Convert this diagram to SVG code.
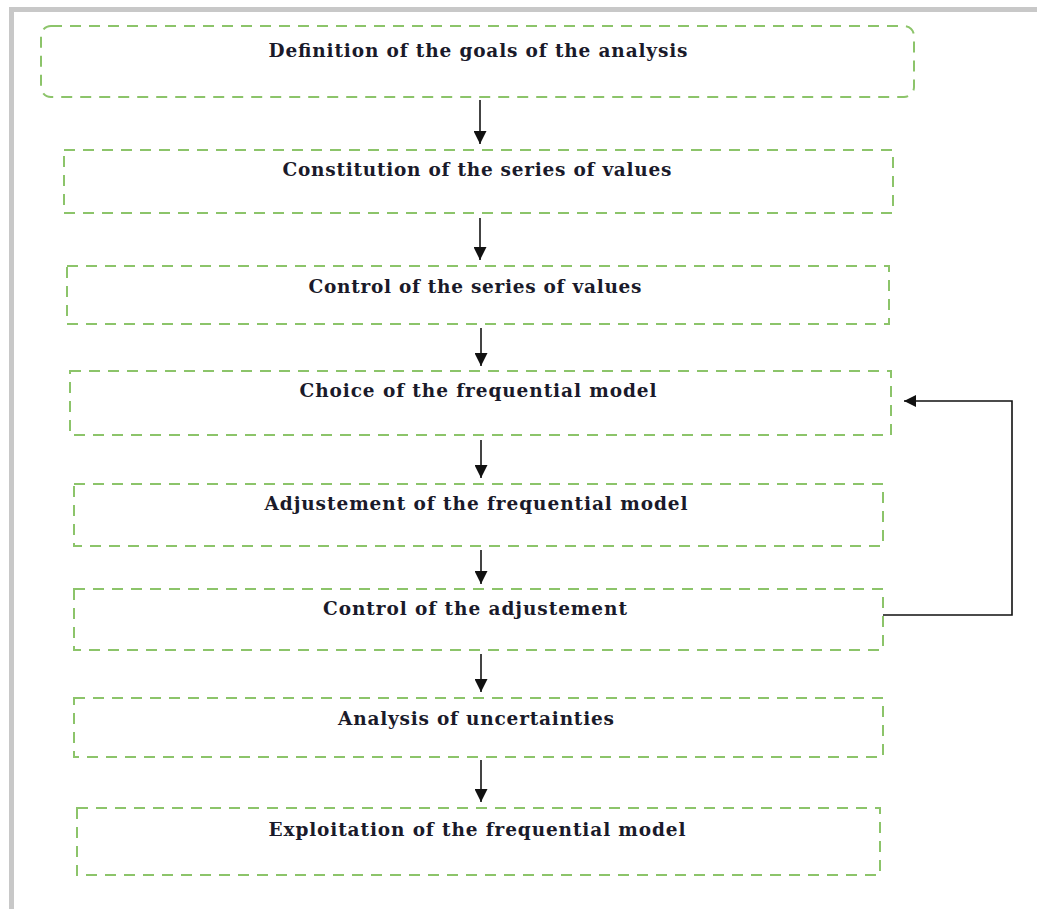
<svg xmlns="http://www.w3.org/2000/svg" width="1037" height="909" viewBox="0 0 1037 909">
<style>
.box{fill:none;stroke:#8cc46a;stroke-width:2;stroke-dasharray:11 8}
.lbl{font-family:"DejaVu Serif","Liberation Serif",serif;font-size:18.5px;font-weight:bold;fill:#1a1a2a;text-anchor:middle}
.arr{stroke:#444;stroke-width:2;fill:none;marker-end:url(#ah)}
.fb{stroke:#111;stroke-width:1.6;fill:none;marker-end:url(#ah2)}
</style>
<defs>
<marker id="ah" viewBox="0 0 10 10" refX="10" refY="5" markerUnits="userSpaceOnUse" markerWidth="14" markerHeight="13" orient="auto"><path d="M0,0 L10,5 L0,10 Z" fill="#111"/></marker>
<marker id="ah2" viewBox="0 0 10 10" refX="10" refY="5" markerUnits="userSpaceOnUse" markerWidth="14" markerHeight="12" orient="auto"><path d="M0,0 L10,5 L0,10 Z" fill="#111"/></marker>
</defs>
<rect width="1037" height="909" fill="#fff"/>
<path d="M11.5,909 V9.5 H1037" fill="none" stroke="#c8c8c8" stroke-width="5"/>
<g id="n1"><rect class="box" x="41" y="26" width="873" height="71" rx="10"/><text class="lbl" x="478" y="57" textLength="419" lengthAdjust="spacing">Definition of the goals of the analysis</text></g>
<g id="n2"><rect class="box" x="64" y="150" width="829" height="63"/><text class="lbl" x="477" y="176" textLength="389" lengthAdjust="spacing">Constitution of the series of values</text></g>
<g id="n3"><rect class="box" x="67" y="266" width="822" height="58"/><text class="lbl" x="475" y="293" textLength="333" lengthAdjust="spacing">Control of the series of values</text></g>
<g id="n4"><rect class="box" x="70" y="371" width="821" height="64"/><text class="lbl" x="478" y="397" textLength="357" lengthAdjust="spacing">Choice of the frequential model</text></g>
<g id="n5"><rect class="box" x="74" y="484" width="809" height="62"/><text class="lbl" x="476" y="510" textLength="423" lengthAdjust="spacing">Adjustement of the frequential model</text></g>
<g id="n6"><rect class="box" x="74" y="589" width="809" height="61"/><text class="lbl" x="475" y="615" textLength="304" lengthAdjust="spacing">Control of the adjustement</text></g>
<g id="n7"><rect class="box" x="74" y="698" width="809" height="59"/><text class="lbl" x="476" y="725" textLength="276" lengthAdjust="spacing">Analysis of uncertainties</text></g>
<g id="n8"><rect class="box" x="77" y="808" width="803" height="67"/><text class="lbl" x="477" y="836" textLength="417" lengthAdjust="spacing">Exploitation of the frequential model</text></g>
<g id="connectors">
<line class="arr" x1="480" y1="100" x2="480" y2="144"/>
<line class="arr" x1="480" y1="218" x2="480" y2="260"/>
<line class="arr" x1="481" y1="328" x2="481" y2="366"/>
<line class="arr" x1="481" y1="440" x2="481" y2="478"/>
<line class="arr" x1="481" y1="550" x2="481" y2="584"/>
<line class="arr" x1="481" y1="654" x2="481" y2="692"/>
<line class="arr" x1="481" y1="760" x2="481" y2="802"/>
<path class="fb" d="M883,615 H1012 V401 H904"/>
</g>
</svg>
